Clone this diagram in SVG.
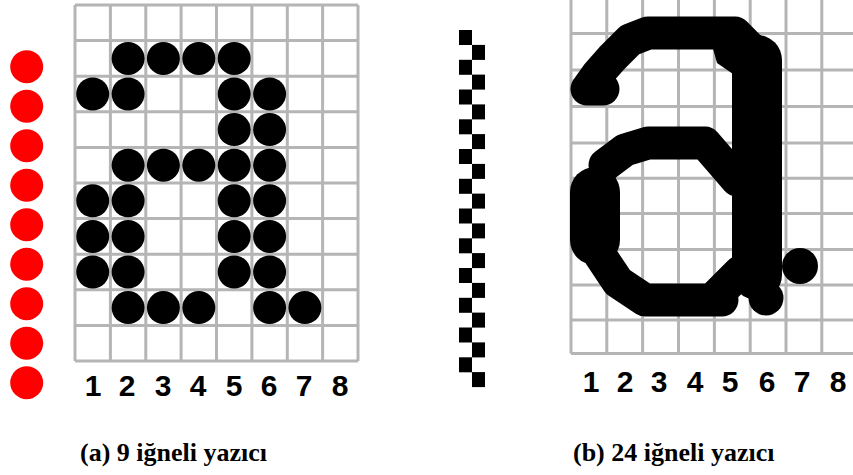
<svg xmlns="http://www.w3.org/2000/svg" width="853" height="475" viewBox="0 0 853 475">
<style>
.grid{fill:none;stroke:#b5b5b5;stroke-width:3}
.dot{fill:#000}
.pin{fill:#ff0000}
.sq{fill:#000}
.thin{fill:none;stroke:#000;stroke-width:33;stroke-linecap:round;stroke-linejoin:round}
.thick{fill:none;stroke:#000;stroke-width:50;stroke-linecap:round;stroke-linejoin:round}
.num{font-family:"Liberation Sans",Arial,sans-serif;font-weight:bold;font-size:30px;fill:#000;text-anchor:middle}
.cap{font-family:"Liberation Serif","Times New Roman",serif;font-weight:bold;font-size:26px;fill:#000}
</style>
<rect width="853" height="475" fill="#fff"/>

<g id="pins9">
<circle class="pin" cx="26.7" cy="66.7" r="16.5"/>
<circle class="pin" cx="26.7" cy="106.2" r="16.5"/>
<circle class="pin" cx="26.7" cy="145.7" r="16.5"/>
<circle class="pin" cx="26.7" cy="185.2" r="16.5"/>
<circle class="pin" cx="26.7" cy="224.7" r="16.5"/>
<circle class="pin" cx="26.7" cy="264.2" r="16.5"/>
<circle class="pin" cx="26.7" cy="303.7" r="16.5"/>
<circle class="pin" cx="26.7" cy="343.2" r="16.5"/>
<circle class="pin" cx="26.7" cy="382.7" r="16.5"/>
</g>

<g id="grid9">
<path class="grid" d="M75,5V361M110.4,5V361M145.8,5V361M181.1,5V361M216.5,5V361M251.9,5V361M287.3,5V361M322.6,5V361M358,5V361
M75,5H358M75,40.6H358M75,76.2H358M75,111.8H358M75,147.4H358M75,183H358M75,218.6H358M75,254.2H358M75,289.8H358M75,325.4H358M75,361H358"/>
<g id="letter9">
<circle class="dot" cx="128.1" cy="58.4" r="16.5"/>
<circle class="dot" cx="163.4" cy="58.4" r="16.5"/>
<circle class="dot" cx="198.8" cy="58.4" r="16.5"/>
<circle class="dot" cx="234.2" cy="58.4" r="16.5"/>
<circle class="dot" cx="92.7" cy="94" r="16.5"/>
<circle class="dot" cx="128.1" cy="94" r="16.5"/>
<circle class="dot" cx="234.2" cy="94" r="16.5"/>
<circle class="dot" cx="269.6" cy="94" r="16.5"/>
<circle class="dot" cx="234.2" cy="129.6" r="16.5"/>
<circle class="dot" cx="269.6" cy="129.6" r="16.5"/>
<circle class="dot" cx="128.1" cy="165.2" r="16.5"/>
<circle class="dot" cx="163.4" cy="165.2" r="16.5"/>
<circle class="dot" cx="198.8" cy="165.2" r="16.5"/>
<circle class="dot" cx="234.2" cy="165.2" r="16.5"/>
<circle class="dot" cx="269.6" cy="165.2" r="16.5"/>
<circle class="dot" cx="92.7" cy="200.8" r="16.5"/>
<circle class="dot" cx="128.1" cy="200.8" r="16.5"/>
<circle class="dot" cx="234.2" cy="200.8" r="16.5"/>
<circle class="dot" cx="269.6" cy="200.8" r="16.5"/>
<circle class="dot" cx="92.7" cy="236.4" r="16.5"/>
<circle class="dot" cx="128.1" cy="236.4" r="16.5"/>
<circle class="dot" cx="234.2" cy="236.4" r="16.5"/>
<circle class="dot" cx="269.6" cy="236.4" r="16.5"/>
<circle class="dot" cx="92.7" cy="272" r="16.5"/>
<circle class="dot" cx="128.1" cy="272" r="16.5"/>
<circle class="dot" cx="234.2" cy="272" r="16.5"/>
<circle class="dot" cx="269.6" cy="272" r="16.5"/>
<circle class="dot" cx="128.1" cy="307.6" r="16.5"/>
<circle class="dot" cx="163.4" cy="307.6" r="16.5"/>
<circle class="dot" cx="198.8" cy="307.6" r="16.5"/>
<circle class="dot" cx="269.6" cy="307.6" r="16.5"/>
<circle class="dot" cx="304.9" cy="307.6" r="16.5"/>
</g>
<g id="cols9">
<text class="num" x="93" y="396">1</text>
<text class="num" x="127" y="396">2</text>
<text class="num" x="163" y="396">3</text>
<text class="num" x="198" y="396">4</text>
<text class="num" x="234" y="396">5</text>
<text class="num" x="269" y="396">6</text>
<text class="num" x="304" y="396">7</text>
<text class="num" x="340" y="396">8</text>
</g>
</g>

<g id="pins24">
<rect class="sq" x="459" y="30" width="13" height="15"/>
<rect class="sq" x="472" y="44.9" width="13" height="15"/>
<rect class="sq" x="459" y="59.8" width="13" height="15"/>
<rect class="sq" x="472" y="74.6" width="13" height="15"/>
<rect class="sq" x="459" y="89.5" width="13" height="15"/>
<rect class="sq" x="472" y="104.4" width="13" height="15"/>
<rect class="sq" x="459" y="119.3" width="13" height="15"/>
<rect class="sq" x="472" y="134.1" width="13" height="15"/>
<rect class="sq" x="459" y="149" width="13" height="15"/>
<rect class="sq" x="472" y="163.9" width="13" height="15"/>
<rect class="sq" x="459" y="178.8" width="13" height="15"/>
<rect class="sq" x="472" y="193.6" width="13" height="15"/>
<rect class="sq" x="459" y="208.5" width="13" height="15"/>
<rect class="sq" x="472" y="223.4" width="13" height="15"/>
<rect class="sq" x="459" y="238.3" width="13" height="15"/>
<rect class="sq" x="472" y="253.1" width="13" height="15"/>
<rect class="sq" x="459" y="268" width="13" height="15"/>
<rect class="sq" x="472" y="282.9" width="13" height="15"/>
<rect class="sq" x="459" y="297.8" width="13" height="15"/>
<rect class="sq" x="472" y="312.6" width="13" height="15"/>
<rect class="sq" x="459" y="327.5" width="13" height="15"/>
<rect class="sq" x="472" y="342.4" width="13" height="15"/>
<rect class="sq" x="459" y="357.3" width="13" height="15"/>
<rect class="sq" x="472" y="372.1" width="13" height="15"/>
</g>

<g id="grid24">
<path class="grid" d="M571,-2V353.5M606.8,-2V353.5M642.6,-2V353.5M678.5,-2V353.5M714.4,-2V353.5M750.2,-2V353.5M786,-2V353.5M821.8,-2V353.5M857.6,-2V353.5
M571,-2H858M571,33.4H858M571,70H858M571,106.5H858M571,143H858M571,178.3H858M571,213.5H858M571,249.5H858M571,285H858M571,320H858M571,353.5H858"/>
<g id="letter24">
<path class="thin" d="M587,89 L603,89 M587,89 L597,75 L612,58 L630,40 L648,33 L735,33 L757,55"/>
<path fill="#000" d="M712,45 L750,45 L750,85 L733,85 L733,74 L717,63 Z"/>
<path class="thick" d="M757,60 L757,275"/>
<circle cx="766" cy="298" r="17.5" fill="#000"/>
<circle cx="800" cy="266" r="18" fill="#000"/>
<path class="thin" d="M737,180 L705,143 L648,143 L625,150 L605,165"/>
<path class="thick" d="M595,192 L595,240"/>
<path class="thin" d="M600,255 L618,282 L645,300 L722,300 M715,297 L740,272"/>
</g>
<g id="cols24">
<text class="num" x="591" y="391.5">1</text>
<text class="num" x="625" y="391.5">2</text>
<text class="num" x="659" y="391.5">3</text>
<text class="num" x="695" y="391.5">4</text>
<text class="num" x="730" y="391.5">5</text>
<text class="num" x="767" y="391.5">6</text>
<text class="num" x="802" y="391.5">7</text>
<text class="num" x="838" y="391.5">8</text>
</g>
</g>

<g id="captions">
<text class="cap" x="80" y="461">(a) 9 iğneli yazıcı</text>
<text class="cap" x="573" y="461">(b) 24 iğneli yazıcı</text>
</g>
</svg>
